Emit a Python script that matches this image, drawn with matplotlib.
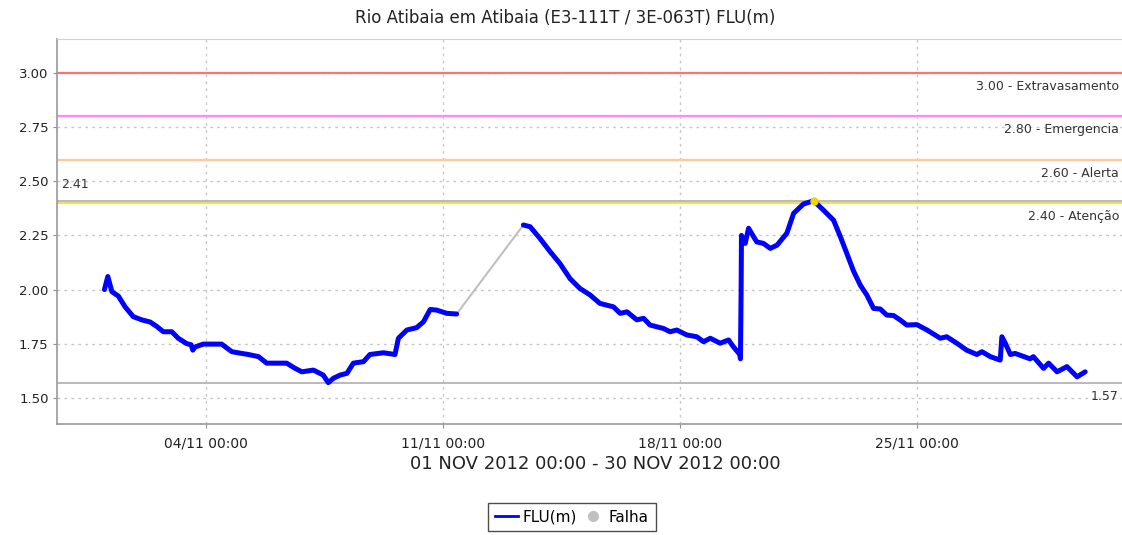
import matplotlib
matplotlib.use("Agg")
import matplotlib.pyplot as plt
import matplotlib.dates as mdates
from matplotlib.lines import Line2D
import matplotlib.transforms as mtransforms
import pandas as pd

# ---------------- data ----------------
start = pd.Timestamp("2012-11-01 00:00")
end = pd.Timestamp("2012-11-30 00:00")

# segment before the data gap (days since 01/11 00:00, level in m)
seg1_days = [0.00, 0.10, 0.22, 0.41, 0.61, 0.85, 1.10, 1.35, 1.54, 1.74, 1.99, 2.18, 2.43,
             2.56, 2.61, 2.68, 2.92, 3.46, 3.76, 4.05, 4.25, 4.55, 4.79, 5.38, 5.63, 5.83,
             6.17, 6.46, 6.61, 6.76, 6.96, 7.16, 7.35, 7.65, 7.84, 8.24, 8.58, 8.68, 8.93,
             9.22, 9.42, 9.62, 9.81, 10.11, 10.40]
seg1_vals = [2.00, 2.06, 1.99, 1.97, 1.92, 1.875, 1.86, 1.85, 1.83, 1.805, 1.805, 1.775, 1.75,
             1.745, 1.72, 1.735, 1.748, 1.748, 1.713, 1.705, 1.70, 1.69, 1.66, 1.66, 1.636, 1.62,
             1.628, 1.605, 1.57, 1.59, 1.605, 1.613, 1.66, 1.667, 1.70, 1.708, 1.70, 1.775, 1.813,
             1.824, 1.851, 1.908, 1.905, 1.89, 1.887]

# segment after the data gap
seg2_days = [12.37, 12.57, 12.86, 13.16, 13.45, 13.75, 14.04, 14.34, 14.63, 14.83, 15.03, 15.23,
             15.43, 15.72, 15.92, 16.11, 16.51, 16.70, 16.90, 17.20, 17.49, 17.69, 17.89, 18.18,
             18.43, 18.57, 18.76, 18.78, 18.80, 18.81, 18.92, 19.02, 19.26, 19.46, 19.66, 19.86,
             20.15, 20.35, 20.64, 20.94, 21.23, 21.53, 21.73, 21.92, 22.12, 22.32, 22.51, 22.71,
             22.91, 23.10, 23.30, 23.50, 23.69, 23.99, 24.29, 24.68, 24.87, 25.17, 25.46, 25.76,
             25.91, 26.16, 26.45, 26.50, 26.60, 26.75, 26.89, 27.33, 27.43, 27.73, 27.88, 28.13,
             28.42, 28.72, 28.96]
seg2_vals = [2.298, 2.29, 2.236, 2.175, 2.12, 2.05, 2.005, 1.975, 1.936, 1.928, 1.92, 1.89,
             1.897, 1.86, 1.867, 1.836, 1.82, 1.805, 1.813, 1.79, 1.782, 1.759, 1.775, 1.752,
             1.767, 1.736, 1.70, 1.68, 2.00, 2.25, 2.213, 2.283, 2.22, 2.213, 2.19, 2.205,
             2.26, 2.352, 2.395, 2.41, 2.367, 2.32, 2.244, 2.167, 2.085, 2.02, 1.975, 1.913,
             1.91, 1.882, 1.88, 1.859, 1.836, 1.838, 1.813, 1.775, 1.782, 1.752, 1.72, 1.70,
             1.713, 1.69, 1.674, 1.782, 1.752, 1.70, 1.705, 1.68, 1.69, 1.636, 1.66, 1.62,
             1.644, 1.597, 1.62]

# alert levels
level_vals = [3.00, 2.80, 2.60, 2.40]
level_names = ["Extravasamento", "Emergencia", "Alerta", "Atenção"]
level_colors = ["#f27878", "#ff88ff", "#ffc69a", "#e8e066"]

yticks = [1.50, 1.75, 2.00, 2.25, 2.50, 2.75, 3.00]
xtick_days = [3, 10, 17, 24]

title = "Rio Atibaia em Atibaia (E3-111T / 3E-063T) FLU(m)"
xlabel = "01 NOV 2012 00:00 - 30 NOV 2012 00:00"

# ---------------- figure ----------------
def to_time(days):
    return [start + pd.Timedelta(days=d) for d in days]

t1 = to_time(seg1_days)
t2 = to_time(seg2_days)

fig = plt.figure(figsize=(11.22, 5.35), dpi=100)
ax = fig.add_axes([57 / 1122, 111 / 535, (1134 - 57) / 1122, 385 / 535])

# grid
ax.set_axisbelow(True)
ax.grid(True, color="#c8c8c8", linestyle=(0, (2, 3)), linewidth=1.0)

# labels placed flush with the right edge of the picture
label_x = 1119 / 1122
blend_fig = mtransforms.blended_transform_factory(fig.transFigure, ax.transData)
blend_ax = mtransforms.blended_transform_factory(ax.transAxes, ax.transData)

# alert levels
for v, name, c in zip(level_vals, level_names, level_colors):
    ax.axhline(v, color=c, linewidth=1.6, zorder=2)
    ax.annotate(f"{v:.2f} - {name}", xy=(label_x, v), xycoords=blend_fig, xytext=(0, -5),
                textcoords="offset points", ha="right", va="top", fontsize=9,
                color="#333333", annotation_clip=False)

# max / min markers
all_vals = seg1_vals + seg2_vals
all_t = t1 + t2
vmax = max(all_vals)
vmin = min(all_vals)
ax.axhline(vmax, color="#b4b4b4", linewidth=1.3, zorder=2)
ax.axhline(vmin, color="#b4b4b4", linewidth=1.3, zorder=2)
ax.annotate(f"{vmax:.2f}", xy=(0, vmax), xycoords=blend_ax, xytext=(3, 7),
            textcoords="offset points", ha="left", va="bottom", fontsize=9, color="#333333")
ax.annotate(f"{vmin:.2f}", xy=(label_x, vmin), xycoords=blend_fig, xytext=(0, -5),
            textcoords="offset points", ha="right", va="top", fontsize=9,
            color="#333333", annotation_clip=False)

# gap (falha)
ax.plot([t1[-1], t2[0]], [seg1_vals[-1], seg2_vals[0]], color="#c0c0c0", linewidth=1.5, zorder=3)

# data
ax.plot(t1, seg1_vals, color="#0000ff", linewidth=3.6, solid_joinstyle="round",
        solid_capstyle="round", zorder=4)
ax.plot(t2, seg2_vals, color="#0000ff", linewidth=3.6, solid_joinstyle="round",
        solid_capstyle="round", zorder=4)

imax = all_vals.index(vmax)
ax.plot([all_t[imax]], [vmax], "o", color="#e8d800", markersize=5, zorder=5)

# axes
span = end - start
margin = span * 0.0483
ax.set_xlim(start - margin, end + margin)
ax.set_ylim(1.379, 3.157)
ax.set_yticks(yticks)
ax.set_yticklabels([f"{y:.2f}" for y in yticks])
ax.set_xticks(to_time(xtick_days))
ax.xaxis.set_major_formatter(mdates.DateFormatter("%d/%m %H:%M"))
ax.tick_params(axis="both", direction="out", length=3, width=0.8, color="#909090",
               labelcolor="#222222")
ax.tick_params(axis="x", labelsize=10, pad=6)
ax.tick_params(axis="y", labelsize=9.5, pad=3)
for s in ["left", "bottom"]:
    ax.spines[s].set_color("#9a9a9a")
    ax.spines[s].set_linewidth(1.2)
ax.spines["top"].set_color("#d4d4d4")
ax.spines["right"].set_color("#d4d4d4")

ax.set_xlabel(xlabel, fontsize=13, color="#222222", labelpad=3)
fig.text(565 / 1122, 1 - 18 / 535, title, ha="center", va="center", fontsize=12, color="#222222")

handles = [Line2D([], [], color="#0000ff", linewidth=2),
           Line2D([], [], color="#c0c0c0", marker="o", linestyle="none", markersize=7)]
leg = fig.legend(handles, ["FLU(m)", "Falha"], loc="center", bbox_to_anchor=(572 / 1122, 1 - 517 / 535),
                 ncol=2, frameon=True, fancybox=False, fontsize=11, handlelength=1.5,
                 handletextpad=0.3, columnspacing=0.3, borderpad=0.45, borderaxespad=0)
leg.get_frame().set_edgecolor("#222222")
leg.get_frame().set_linewidth(1.0)

fig.savefig("out.png", dpi=100)
